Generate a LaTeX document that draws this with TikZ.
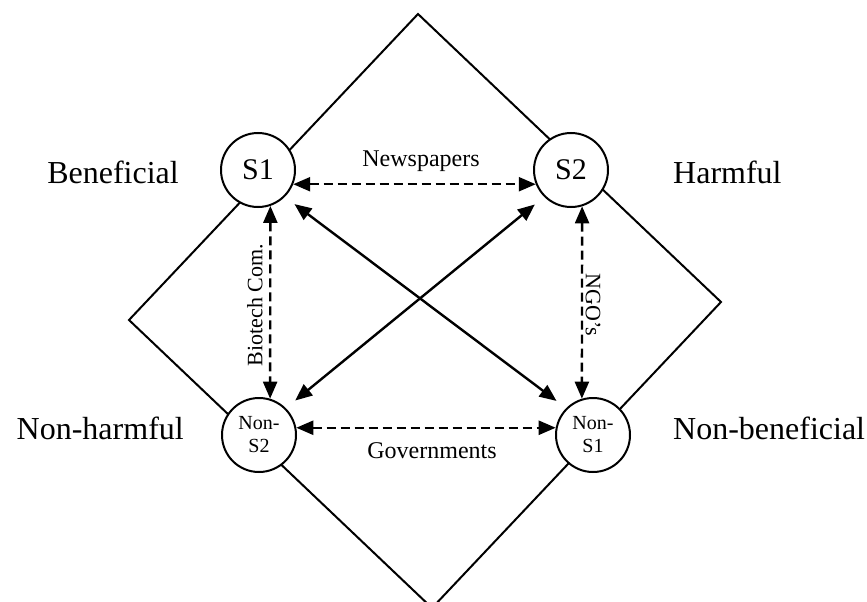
\documentclass[tikz,border=0pt]{standalone}
\usepackage{fontspec}
\setmainfont{Liberation Serif}
\usetikzlibrary{arrows.meta}
\begin{document}
\begin{tikzpicture}[x=1pt,y=-1pt,
  frame/.style={line width=2pt, line join=miter},
  state/.style={circle, draw, line width=2pt, fill=white, minimum size=74pt,
    inner sep=0pt, font=\fontsize{30}{36}\selectfont},
  substate/.style={state, align=center, font=\fontsize{20}{23}\selectfont},
  side/.style={inner sep=0pt, font=\fontsize{32}{38}\selectfont},
  link/.style={line width=2.4pt,
    {Triangle[length=17pt,width=14pt]}-{Triangle[length=17pt,width=14pt]}},
  dlink/.style={link, dash pattern=on 9pt off 5pt},
  tag/.style={inner sep=0pt, font=\fontsize{24}{28}\selectfont},
  vtag/.style={inner sep=0pt, font=\fontsize{22}{26}\selectfont}]
\useasboundingbox (0,0) rectangle (867,602);

% outer square standing on its corner
\coordinate (T) at (418,14);
\coordinate (R) at (721,302);
\coordinate (B) at (432,608);
\coordinate (L) at (129,320);
\draw[frame] (T) -- (R) -- (B) -- (L) -- cycle;

% the four states
\node[state] (S1) at (258,170) {S1};
\node[state] (S2) at (571,170) {S2};
\node[substate] (NS2) at (259,435) {Non-\\S2};
\node[substate] (NS1) at (593,435) {Non-\\S1};

% side labels
\node[side, anchor=east] (lb) at (179,172) {Beneficial};
\node[side, anchor=west] (lh) at (673,172) {Harmful};
\node[side, anchor=east] (lnh) at (184,428) {Non-harmful};
\node[side, anchor=west] (lnb) at (673,428) {Non-beneficial};

% dashed links between neighbouring states
\draw[dlink] (S1.-22) -- (S2.-158);
\draw[dlink] (NS2.11) -- (NS1.169);
\draw[dlink] (S1.-71) -- (NS2.73);
\draw[dlink] (S2.-73) -- (NS1.107);

% crossing links
\draw[link, shorten <=12pt, shorten >=12pt] (S1.-45) -- (NS1.135);
\draw[link, shorten <=12pt, shorten >=12pt] (S2.-135) -- (NS2.45);

% link captions
\node[tag] (tn) at (421,161) {Newspapers};
\node[tag] (tg) at (432,451) {Governments};
\node[vtag, rotate=90] (tb) at (255,305) {Biotech Com.};
\node[vtag, rotate=-90] (to) at (593,305) {NGO’s};
\end{tikzpicture}
\end{document}
